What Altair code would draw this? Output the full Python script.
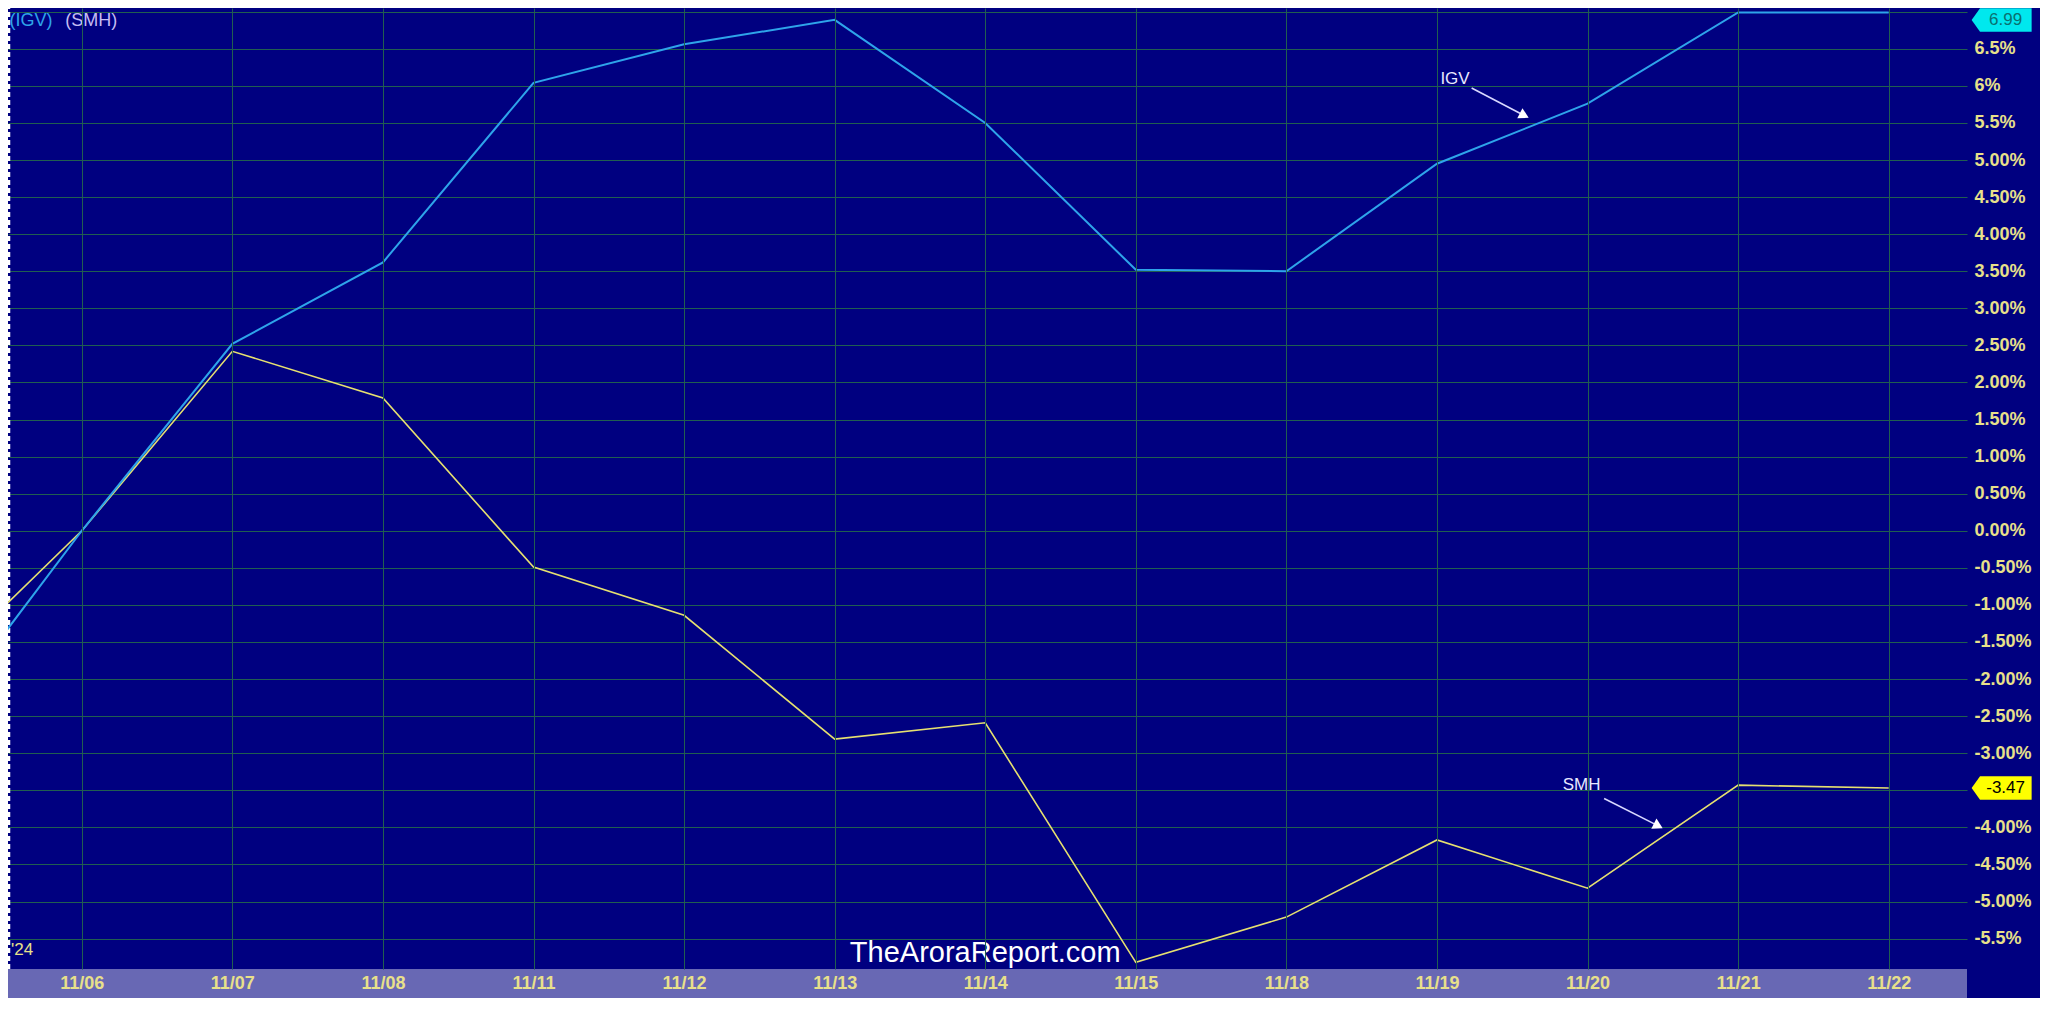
import altair as alt
import pandas as pd

# ---------------- data ----------------
dates = ["11/05", "11/06", "11/07", "11/08", "11/11", "11/12", "11/13",
         "11/14", "11/15", "11/18", "11/19", "11/20", "11/21", "11/22"]
igv = [-2.69, 0.00, 2.52, 3.62, 6.04, 6.56, 6.89, 5.50, 3.52, 3.50, 4.95, 5.76, 6.99, 6.99]
smh = [-1.98, 0.00, 2.42, 1.79, -0.49, -1.14, -2.81, -2.59, -5.82, -5.21, -4.17, -4.82, -3.43, -3.47]

ytick_values = [-5.5, -5.0, -4.5, -4.0, -3.5, -3.0, -2.5, -2.0, -1.5, -1.0, -0.5, 0.0,
                0.5, 1.0, 1.5, 2.0, 2.5, 3.0, 3.5, 4.0, 4.5, 5.0, 5.5, 6.0, 6.5, 7.0]
ytick_labels = ["-5.5%", "-5.00%", "-4.50%", "-4.00%", "", "-3.00%", "-2.50%", "-2.00%",
                "-1.50%", "-1.00%", "-0.50%", "0.00%", "0.50%", "1.00%", "1.50%", "2.00%",
                "2.50%", "3.00%", "3.50%", "4.00%", "4.50%", "5.00%", "5.5%", "6%", "6.5%", ""]
xtick_values = list(range(1, len(dates)))

last_labels = ["6.99", "-3.47"]
last_values = [6.99, -3.47]

note_text = ["IGV", "SMH"]
note_pos_x = [10.12, 10.96]
note_pos_y = [6.09, -3.43]
arrow_x1 = [10.23, 11.11]
arrow_y1 = [5.97, -3.61]
arrow_x2 = [10.57, 11.46]
arrow_y2 = [5.61, -3.97]

# ---------------- layout / style ----------------
W, H = 1959, 961
RIGHT, BOTTOM = 73, 29
X0, X1 = 0.51, 13.52
Y0, Y1 = -5.91, 7.05
NAVY = "#000080"
BAND = "#6868B4"
GRID = "#215E50"
LABEL = "#E8E08A"
IGV_C = "#2EA4EA"
SMH_C = "#E6E070"
FONT = "Liberation Sans"

xs = alt.Scale(domain=[X0, X1], nice=False, zero=False)
ys = alt.Scale(domain=[Y0, Y1], nice=False, zero=False)

date_arr = "[" + ",".join("'%s'" % d for d in dates) + "]"
yv_arr = "[" + ",".join(str(v) for v in ytick_values) + "]"
yl_arr = "[" + ",".join("'%s'" % l for l in ytick_labels) + "]"

df = pd.DataFrame({"i": list(range(len(dates))), "date": dates, "IGV": igv, "SMH": smh})

x_axis = alt.Axis(values=xtick_values, labelExpr=date_arr + "[datum.value]",
                  grid=True, gridColor=GRID, gridWidth=1,
                  ticks=False, tickSize=0, domain=False, labelBaseline="middle",
                  labelPadding=BOTTOM / 2, labelColor=LABEL, labelFont=FONT,
                  labelFontSize=18, labelFontWeight="bold", labelFlush=False,
                  title=None, zindex=2)
y_axis = alt.Axis(values=ytick_values, orient="right",
                  labelExpr=yl_arr + "[indexof(" + yv_arr + ", datum.value)]",
                  grid=True, gridColor=GRID, gridWidth=1,
                  ticks=False, domain=False, labelPadding=7, labelAlign="left",
                  labelBaseline="middle", labelColor=LABEL, labelFont=FONT,
                  labelFontSize=18, labelFontWeight="bold", labelFlush=False,
                  labelOverlap=False, title=None)


def X(f):
    return alt.X(f, type="quantitative", scale=xs, axis=x_axis)


def Y(f):
    return alt.Y(f, type="quantitative", scale=ys, axis=y_axis)


base = alt.Chart(df)
igv_line = base.mark_line(color=IGV_C, strokeWidth=2, clip=True).encode(x=X("i"), y=Y("IGV"))
smh_line = base.mark_line(color=SMH_C, strokeWidth=1.6, clip=True).encode(x=X("i"), y=Y("SMH"))

# date band under the plot (spans the plot width, one band-height below it)
band_df = pd.DataFrame({"x": [X0], "x2": [X1], "y": [Y0], "y2": [Y0 - (Y1 - Y0) * BOTTOM / H]})
band = alt.Chart(band_df).mark_rect(color=BAND, opacity=1).encode(
    x=X("x"), x2="x2:Q", y=Y("y"), y2="y2:Q")

# left edge dashed marker
edge_df = pd.DataFrame({"x": [0.515], "y1": [Y0], "y2": [Y1]})
edge = alt.Chart(edge_df).mark_rule(color="white", strokeWidth=3, strokeDash=[5, 3]).encode(
    x=X("x"), y=Y("y1"), y2="y2:Q")

# end-value badges (kept inside the top edge, as the reference does)
badge_y = [min(v, Y1 - (Y1 - Y0) * 12 / H) for v in last_values]
badge_df = pd.DataFrame({"x": [13.75, 13.75], "y": badge_y, "label": last_labels,
                         "fill": ["#00E8EE", "#FFFF00"], "tc": ["#0A7070", "#000000"]})
badge = alt.Chart(badge_df).mark_point(
    shape="M-1,0L-0.72,-0.39L1,-0.39L1,0.39L-0.72,0.39Z", size=3600, filled=True,
    opacity=1, strokeWidth=0).encode(
    x=X("x"), y=Y("y"), color=alt.Color("fill:N", scale=None))
badge_txt = alt.Chart(badge_df).mark_text(font=FONT, fontSize=17, dx=4, align="center",
                                          baseline="middle").encode(
    x=X("x"), y=Y("y"), text="label:N", color=alt.Color("tc:N", scale=None))

# annotations with arrows
note_df = pd.DataFrame({"t": note_text, "x": note_pos_x, "y": note_pos_y,
                        "x1": arrow_x1, "y1": arrow_y1, "x2": arrow_x2, "y2": arrow_y2})
note_txt = alt.Chart(note_df).mark_text(font=FONT, fontSize=17, color="#E8E8FF",
                                        align="center", baseline="middle").encode(
    x=X("x"), y=Y("y"), text="t:N")
arrow = alt.Chart(note_df).mark_rule(color="#D8D8FF", strokeWidth=1.6).encode(
    x=X("x1"), y=Y("y1"), x2="x2:Q", y2="y2:Q")
head = alt.Chart(note_df).mark_point(shape="triangle", filled=True, size=130, angle=117,
                                     color="white", opacity=1).encode(x=X("x2"), y=Y("y2"))

# legend text, year marker and watermark
legend_df = pd.DataFrame({"t": ["(IGV)", "(SMH)"], "x": [0.52, 0.89], "y": [6.88, 6.88],
                          "c": [IGV_C, "#C4BCF2"]})
legend = alt.Chart(legend_df).mark_text(font=FONT, fontSize=18, align="left",
                                        baseline="middle").encode(
    x=X("x"), y=Y("y"), text="t:N", color=alt.Color("c:N", scale=None))

misc_df = pd.DataFrame({"t": ["'24"], "x": [0.53], "y": [-5.66]})
year = alt.Chart(misc_df).mark_text(font=FONT, fontSize=17, color=LABEL, align="left",
                                    baseline="middle").encode(x=X("x"), y=Y("y"), text="t:N")

wm_df = pd.DataFrame({"t": ["TheAroraReport.com"], "x": [7.0], "y": [-5.70]})
wm = alt.Chart(wm_df).mark_text(font=FONT, fontSize=29, color="white", align="center",
                                baseline="middle").encode(x=X("x"), y=Y("y"), text="t:N")

chart = alt.layer(band, edge, smh_line, igv_line, note_txt, arrow, head, legend, year, wm,
                  badge, badge_txt).properties(
    width=W, height=H,
    autosize=alt.AutoSizeParams(type="none"),
    padding={"left": 0, "top": 0, "right": RIGHT, "bottom": BOTTOM},
    background=NAVY,
).configure_view(stroke=None, fill=NAVY)

chart.save("out.html", embed_options={"renderer": "svg", "actions": False})
